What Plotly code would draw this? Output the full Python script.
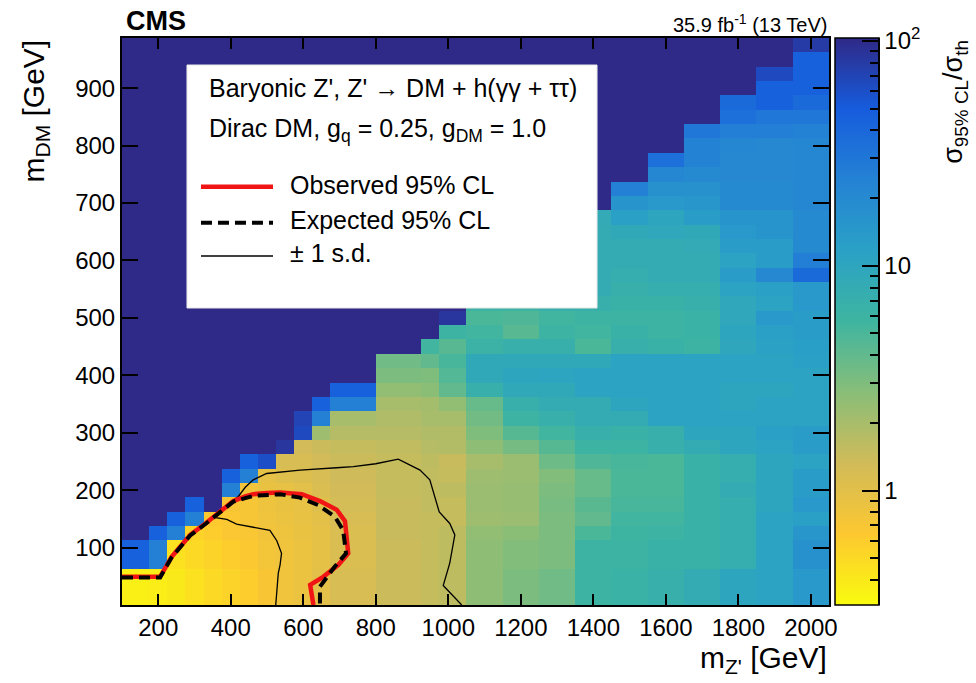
import numpy as np
import plotly.graph_objects as go

# ---------------------------------------------------------------------------
# Limit map: sigma_95%CL / sigma_th on an (m_Z', m_DM) grid
# ---------------------------------------------------------------------------
mzp_edges = [100, 175, 225, 275, 325, 375, 425, 475, 525, 575, 625, 675, 800,
             925, 975, 1050, 1150, 1250, 1350, 1450, 1550, 1650, 1750, 1850, 1950, 2050]
mdm_edges = [0, 62.5, 112.5, 137.5, 162.5, 187.5, 212.5, 237.5, 262.5, 287.5, 312.5,
             337.5, 362.5, 387.5, 412.5, 437.5, 462.5, 487.5, 512.5, 537.5, 562.5,
             587.5, 612.5, 637.5, 662.5, 687.5, 712.5, 737.5, 762.5, 787.5, 812.5,
             837.5, 862.5, 887.5, 912.5, 937.5, 962.5, 987.5]

# one row per m_DM bin (bottom to top), one column per m_Z' bin
# 200 = far beyond the colour range (kinematically inaccessible region)
limit_ratio = [
    [0.36, 0.38, 0.40, 0.45, 0.50, 0.55, 0.60, 0.70, 0.80, 0.85, 1.00, 1.20, 1.40, 1.50, 1.60, 2.6, 3.1, 3.5, 6.0, 6.3, 7.0, 8.0, 10, 11, 14],
    [45, 25, 0.45, 0.50, 0.55, 0.60, 0.65, 0.75, 0.80, 0.85, 0.95, 1.15, 1.40, 1.50, 1.60, 2.6, 2.9, 3.1, 6.0, 6.0, 6.5, 6.5, 7.5, 11, 17],
    [200, 45, 25, 0.55, 0.60, 0.66, 0.68, 0.78, 0.82, 0.88, 0.95, 1.15, 1.45, 1.50, 1.60, 2.5, 2.7, 3.1, 5.0, 5.8, 6.0, 6.5, 7.5, 11, 15],
    [200, 200, 45, 25, 0.63, 0.66, 0.72, 0.80, 0.85, 0.90, 0.98, 1.20, 1.45, 1.50, 1.50, 2.2, 2.3, 3.1, 4.0, 5.5, 5.5, 6.5, 7.5, 11, 12],
    [200, 200, 200, 45, 200, 0.70, 0.72, 0.82, 0.88, 0.92, 1.05, 1.25, 1.45, 1.55, 1.50, 2.3, 2.4, 3.2, 4.3, 5.2, 5.2, 6.5, 7.5, 10, 14],
    [200, 200, 200, 200, 200, 25, 0.78, 0.88, 0.92, 1.00, 1.15, 1.30, 1.50, 1.55, 1.60, 2.3, 2.4, 3.1, 3.8, 5.0, 5.0, 6.5, 8.0, 10, 13],
    [200, 200, 200, 200, 200, 45, 25, 0.95, 1.05, 1.10, 1.20, 1.35, 1.50, 1.55, 1.50, 2.2, 2.3, 2.9, 3.8, 5.0, 5.0, 6.5, 7.5, 10, 13],
    [200, 200, 200, 200, 200, 200, 45, 60, 1.20, 1.20, 1.30, 1.40, 1.50, 1.60, 1.45, 2.0, 2.3, 3.6, 4.8, 5.2, 5.0, 6.5, 7.5, 10, 11],
    [200, 200, 200, 200, 200, 200, 200, 200, 85, 1.30, 1.40, 1.50, 1.55, 1.75, 1.80, 2.6, 3.3, 4.5, 6.0, 6.0, 7.0, 8.0, 10, 11, 13],
    [200, 200, 200, 200, 200, 200, 200, 200, 200, 65, 2.2, 1.75, 1.75, 1.85, 1.80, 3.0, 4.5, 5.5, 7.0, 6.5, 7.0, 10, 10, 12, 13],
    [200, 200, 200, 200, 200, 200, 200, 200, 200, 70, 25, 2.0, 1.85, 2.0, 2.0, 3.4, 6.0, 7.0, 8.0, 8.0, 11, 11, 11, 11, 11],
    [200, 200, 200, 200, 200, 200, 200, 200, 200, 200, 45, 25, 2.0, 2.1, 2.5, 3.8, 7.0, 8.0, 8.0, 10, 11, 11, 10, 11, 11],
    [200, 200, 200, 200, 200, 200, 200, 200, 200, 200, 200, 45, 2.5, 2.7, 4.0, 7.0, 9.0, 9.0, 11, 11, 11, 11, 10, 10, 11],
    [200, 200, 200, 200, 200, 200, 200, 200, 200, 200, 200, 200, 3.1, 3.0, 4.6, 9.0, 10, 10.5, 11, 11, 11, 11, 11, 11, 11],
    [200, 200, 200, 200, 200, 200, 200, 200, 200, 200, 200, 200, 3.5, 4.0, 5.2, 9.0, 9.0, 9.0, 9.0, 11, 11, 11, 11, 11, 12],
    [200, 200, 200, 200, 200, 200, 200, 200, 200, 200, 200, 200, 200, 5.5, 4.4, 6.2, 7.0, 7.0, 5.0, 7.0, 6.5, 6.0, 9.7, 11.5, 12.5],
    [200, 200, 200, 200, 200, 200, 200, 200, 200, 200, 200, 200, 200, 200, 6.0, 5.5, 4.4, 6.0, 5.5, 6.5, 6.0, 6.3, 10, 12, 13],
    [200, 200, 200, 200, 200, 200, 200, 200, 200, 200, 200, 200, 200, 200, 85, 5.0, 4.8, 5.5, 6.0, 6.0, 6.0, 6.3, 9.5, 14, 13],
    [200, 200, 200, 200, 200, 200, 200, 200, 200, 200, 200, 200, 200, 200, 200, 6.0, 6.0, 7.0, 7.0, 6.5, 6.5, 7.0, 9.5, 11, 14],
    [200, 200, 200, 200, 200, 200, 200, 200, 200, 200, 200, 200, 200, 200, 200, 200, 7.0, 7.0, 8.0, 7.0, 7.5, 7.5, 11, 12, 14],
    [200, 200, 200, 200, 200, 200, 200, 200, 200, 200, 200, 200, 200, 200, 200, 200, 7.0, 7.5, 8.0, 7.5, 8.0, 8.0, 13, 21, 38],
    [200, 200, 200, 200, 200, 200, 200, 200, 200, 200, 200, 200, 200, 200, 200, 200, 200, 8.0, 8.0, 8.0, 8.0, 8.0, 11, 13, 26],
    [200, 200, 200, 200, 200, 200, 200, 200, 200, 200, 200, 200, 200, 200, 200, 200, 200, 8.0, 8.0, 8.0, 8.0, 8.5, 13, 13, 20],
    [200, 200, 200, 200, 200, 200, 200, 200, 200, 200, 200, 200, 200, 200, 200, 200, 200, 200, 8.0, 9.0, 9.5, 9.0, 14, 16, 20],
    [200, 200, 200, 200, 200, 200, 200, 200, 200, 200, 200, 200, 200, 200, 200, 200, 200, 200, 8.5, 12, 10, 13, 16, 16, 20],
    [200, 200, 200, 200, 200, 200, 200, 200, 200, 200, 200, 200, 200, 200, 200, 200, 200, 200, 200, 16, 14, 15, 20, 20, 22],
    [200, 200, 200, 200, 200, 200, 200, 200, 200, 200, 200, 200, 200, 200, 200, 200, 200, 200, 200, 25, 17, 17, 20, 20, 22],
    [200, 200, 200, 200, 200, 200, 200, 200, 200, 200, 200, 200, 200, 200, 200, 200, 200, 200, 200, 200, 22, 20, 21, 21, 22],
    [200, 200, 200, 200, 200, 200, 200, 200, 200, 200, 200, 200, 200, 200, 200, 200, 200, 200, 200, 200, 35, 24, 21, 21, 22],
    [200, 200, 200, 200, 200, 200, 200, 200, 200, 200, 200, 200, 200, 200, 200, 200, 200, 200, 200, 200, 200, 24, 22, 21, 22],
    [200, 200, 200, 200, 200, 200, 200, 200, 200, 200, 200, 200, 200, 200, 200, 200, 200, 200, 200, 200, 200, 30, 26, 26, 24],
    [200, 200, 200, 200, 200, 200, 200, 200, 200, 200, 200, 200, 200, 200, 200, 200, 200, 200, 200, 200, 200, 200, 35, 30, 30],
    [200, 200, 200, 200, 200, 200, 200, 200, 200, 200, 200, 200, 200, 200, 200, 200, 200, 200, 200, 200, 200, 200, 38, 45, 38],
    [200, 200, 200, 200, 200, 200, 200, 200, 200, 200, 200, 200, 200, 200, 200, 200, 200, 200, 200, 200, 200, 200, 200, 45, 45],
    [200, 200, 200, 200, 200, 200, 200, 200, 200, 200, 200, 200, 200, 200, 200, 200, 200, 200, 200, 200, 200, 200, 200, 65, 45],
    [200, 200, 200, 200, 200, 200, 200, 200, 200, 200, 200, 200, 200, 200, 200, 200, 200, 200, 200, 200, 200, 200, 200, 200, 45],
    [200, 200, 200, 200, 200, 200, 200, 200, 200, 200, 200, 200, 200, 200, 200, 200, 200, 200, 200, 200, 200, 200, 200, 200, 80],
]

# ---------------------------------------------------------------------------
# 95% CL exclusion contours (m_Z', m_DM) in GeV
# ---------------------------------------------------------------------------
obs_mzp = [100, 205, 237, 288, 330, 370, 407, 440, 462, 500, 536, 596, 646, 692, 715, 724, 697, 655, 619, 628]
obs_mdm = [49, 49, 84, 122, 142, 163, 181, 189, 193, 195, 196, 193, 181, 166, 146, 90, 70, 49, 35, 0]

exp_mzp = [100, 205, 237, 288, 330, 370, 407, 440, 462, 536, 591, 641, 687, 710, 718, 687, 665, 646, 646]
exp_mdm = [48, 48, 83, 121, 141, 162, 180, 186, 190, 193, 187, 174, 154, 130, 90, 67, 49, 32, 0]

sd_lo_mzp = [358, 389, 416, 460, 508, 527, 540, 536, 531, 524]
sd_lo_mdm = [152, 149, 141, 136, 130, 112, 90, 70, 55, 0]

sd_hi_mzp = [407, 421, 440, 462, 499, 554, 591, 692, 738, 800, 862, 922, 949, 975, 1004, 1018, 1012, 1004, 986, 1037]
sd_hi_mdm = [183, 189, 205, 218, 229, 233, 235, 239, 241, 246, 254, 235, 218, 162, 142, 122, 98, 73, 34, 0]

# axis / colour-bar ticks
mzp_ticks = [200, 400, 600, 800, 1000, 1200, 1400, 1600, 1800, 2000]
mdm_ticks = [100, 200, 300, 400, 500, 600, 700, 800, 900]
z_minor_ticks = [0.4, 0.5, 0.6, 0.7, 0.8, 0.9, 2, 3, 4, 5, 6, 7, 8, 9,
                 20, 30, 40, 50, 60, 70, 80, 90]
z_major_ticks = [1, 10, 100]
z_major_labels = ["1", "10", "10<sup>2</sup>"]
z_min, z_max = 0.31, 103.0

# ROOT "kBird"-like palette, reversed (low = yellow, high = dark blue)
bird_reversed = [
    [0.000, "rgb(249,251,14)"],
    [0.125, "rgb(253,200,48)"],
    [0.250, "rgb(209,187,89)"],
    [0.375, "rgb(137,190,120)"],
    [0.500, "rgb(62,181,160)"],
    [0.625, "rgb(42,161,198)"],
    [0.750, "rgb(36,130,212)"],
    [0.875, "rgb(22,92,221)"],
    [1.000, "rgb(47,41,135)"],
]

FONT = "Liberation Sans, Arial, Helvetica, sans-serif"
RED = "rgb(240,20,20)"
DASH = "11px,6px"
CB_X = 1.0085          # left edge of the colour bar (paper units)
CB_THICK = 44          # px
PLOT_W = 976 - 122 - 147

fig = go.Figure()

# the map itself, with a colour bar carrying the minor (unlabelled) ticks
fig.add_trace(go.Heatmap(
    x=mzp_edges,
    y=mdm_edges,
    z=np.log10(np.array(limit_ratio, dtype=float)),
    zmin=np.log10(z_min),
    zmax=np.log10(z_max),
    colorscale=bird_reversed,
    hoverinfo="skip",
    colorbar=dict(
        x=CB_X, xanchor="left", xpad=0,
        y=0.5, yanchor="middle", ypad=0,
        len=1.0, lenmode="fraction",
        thickness=CB_THICK, thicknessmode="pixels",
        outlinewidth=1.5, outlinecolor="black",
        tickmode="array",
        tickvals=list(np.log10(z_minor_ticks)),
        showticklabels=False,
        ticks="inside", ticklen=9, tickwidth=1.5, tickcolor="black",
    ),
))

# a hairline scale on the bar's right edge carrying the long, labelled major ticks
fig.add_trace(go.Scatter(
    x=[None], y=[None], mode="markers", hoverinfo="skip", showlegend=False,
    marker=dict(
        color=[0.0], cmin=np.log10(z_min), cmax=np.log10(z_max),
        colorscale=[[0, "black"], [1, "black"]], showscale=True,
        colorbar=dict(
            x=CB_X + (CB_THICK - 1) / PLOT_W, xanchor="left", xpad=0,
            y=0.5, yanchor="middle", ypad=0,
            len=1.0, lenmode="fraction",
            thickness=1, thicknessmode="pixels", outlinewidth=0,
            tickmode="array",
            tickvals=list(np.log10(z_major_ticks)),
            ticktext=z_major_labels,
            ticks="inside", ticklen=17, tickwidth=1.5, tickcolor="black",
            tickfont=dict(family=FONT, size=24, color="black"),
        ),
    ),
))

fig.add_trace(go.Scatter(x=sd_lo_mzp, y=sd_lo_mdm, mode="lines",
                         line=dict(color="black", width=1.3), hoverinfo="skip", showlegend=False))
fig.add_trace(go.Scatter(x=sd_hi_mzp, y=sd_hi_mdm, mode="lines",
                         line=dict(color="black", width=1.3), hoverinfo="skip", showlegend=False))
fig.add_trace(go.Scatter(x=obs_mzp, y=obs_mdm, mode="lines",
                         line=dict(color=RED, width=4.5), hoverinfo="skip", showlegend=False))
fig.add_trace(go.Scatter(x=exp_mzp, y=exp_mdm, mode="lines",
                         line=dict(color="black", width=4, dash=DASH), hoverinfo="skip", showlegend=False))

axis_common = dict(
    showgrid=False, zeroline=False,
    showline=True, linecolor="black", linewidth=2, mirror="ticks",
    ticks="inside", tickcolor="black", tickwidth=1.5,
    tickfont=dict(family=FONT, size=24, color="black"),
)
fig.update_xaxes(range=[100, 2050], tickmode="array", tickvals=mzp_ticks, ticklen=11, **axis_common)
fig.update_yaxes(range=[0, 987.5], tickmode="array", tickvals=mdm_ticks, ticklen=16, **axis_common)

# legend panel drawn by hand (white box, line samples, text)
shapes = [
    dict(type="rect", xref="paper", yref="paper", x0=0.0919, x1=0.6719, y0=0.5238, y1=0.9524,
         fillcolor="white", line=dict(color="rgb(230,230,230)", width=1), layer="above"),
    dict(type="line", xref="paper", yref="paper", x0=0.1117, x1=0.2136, y0=0.7377, y1=0.7377,
         line=dict(color=RED, width=4.5), layer="above"),
    dict(type="line", xref="paper", yref="paper", x0=0.1117, x1=0.2136, y0=0.6743, y1=0.6743,
         line=dict(color="black", width=4, dash=DASH), layer="above"),
    dict(type="line", xref="paper", yref="paper", x0=0.1117, x1=0.2136, y0=0.6155, y1=0.6155,
         line=dict(color="black", width=1.3), layer="above"),
]

def txt(x, y, text, size, xanchor="left", yanchor="middle", angle=0, bold=False):
    return dict(xref="paper", yref="paper", x=x, y=y, text=f"<b>{text}</b>" if bold else text,
                showarrow=False, xanchor=xanchor, yanchor=yanchor, textangle=angle,
                font=dict(family=FONT, size=size, color="black"))

annotations = [
    txt(0.1198, 0.9118, "Baryonic Z', Z' \u2192 DM + h(\u03b3\u03b3 + \u03c4\u03c4)", 25),
    txt(0.1198, 0.8377, "Dirac DM, g<sub>q</sub> = 0.25, g<sub>DM</sub> = 1.0", 25),
    txt(0.2348, 0.7407, "Observed 95% CL", 25),
    txt(0.2348, 0.6790, "Expected 95% CL", 25),
    txt(0.2348, 0.6208, "\u00b1 1 s.d.", 25),
    txt(0.003, 1.0, "CMS", 27, yanchor="bottom", bold=True),
    txt(1.0, 1.0, "35.9 fb<sup>-1</sup> (13 TeV)", 20, xanchor="right", yanchor="bottom"),
    txt(1.0, -0.097, "m<sub>Z'</sub> [GeV]", 30, xanchor="right"),
    txt(-0.123, 1.0, "m<sub>DM</sub> [GeV]", 30, xanchor="center", yanchor="top", angle=-90),
    txt(1.178, 1.0, "\u03c3<sub>95% CL</sub>/\u03c3<sub>th</sub>", 27, xanchor="center", yanchor="top", angle=-90),
]

fig.update_layout(
    width=976, height=683,
    margin=dict(l=122, r=147, t=38, b=78),
    paper_bgcolor="white", plot_bgcolor="white",
    showlegend=False,
    shapes=shapes,
    annotations=annotations,
    font=dict(family=FONT, color="black"),
)

fig.write_html("out.html")
